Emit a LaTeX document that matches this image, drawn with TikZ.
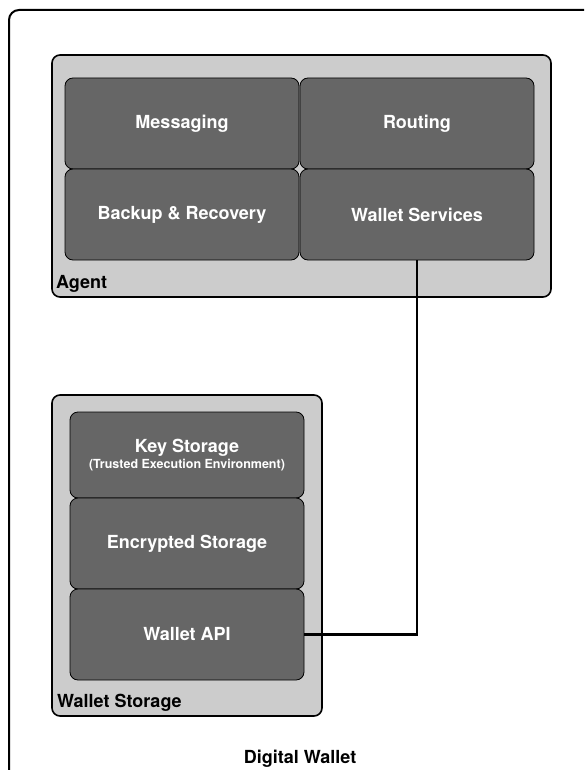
\documentclass[tikz,border=0pt]{standalone}
\usepackage{fontspec}
\setmainfont{TeX Gyre Heros}
\begin{document}
\begin{tikzpicture}[x=1pt,y=-1pt]
        % Colors
        \colorlet{panelcolor}{black!20}
        \colorlet{blockcolor}{black!60}
        % Styles
        \tikzstyle{outer frame}=[draw,line width=2pt,rounded corners=10pt]
        \tikzstyle{panel}=[draw,fill=panelcolor,line width=1.6pt,rounded corners=8pt]
        \tikzstyle{block}=[draw,fill=blockcolor,line width=0.8pt,rounded corners=8pt,
            minimum width=234pt,minimum height=91pt,inner sep=0pt,
            text=white,font=\bfseries\fontsize{18}{20}\selectfont,align=center]
        \tikzstyle{panel label}=[anchor=base west,inner sep=0pt,font=\bfseries\fontsize{18}{20}\selectfont]
        \tikzstyle{link}=[line width=2.6pt]
        %The graphic
        \useasboundingbox (0,0) rectangle (584,770);
        \clip (0,0) rectangle (584,770);
        \draw[style=outer frame] (9,10) rectangle (610,800);
        % Agent
        \draw[style=panel] (52,55) rectangle (551,297);
        \node[block] (msg) at (182,123.5) {Messaging};
        \node[block] (route) at (417,123.5) {Routing};
        \node[block] (backup) at (182,214.5) {Backup \& Recovery};
        \node[block] (ws) at (417,214.5) {Wallet Services};
        \node[panel label] (agent) at (56,288) {Agent};
        % Wallet Storage
        \draw[style=panel] (52,395) rectangle (322,716);
        \node[block,minimum height=86pt] (keys) at (187,455)
            {Key Storage\\[-4pt]{\fontsize{12.5}{14}\selectfont(Trusted Execution Environment)}};
        \node[block] (enc) at (187,543.5) {Encrypted Storage};
        \node[block] (api) at (187,634.5) {Wallet API};
        \node[panel label] (storage) at (57,707) {Wallet Storage};
        % Connection
        \draw[style=link] (ws.south) |- (api.east);
        \node[font=\bfseries\fontsize{18}{20}\selectfont] (wallet) at (300,759) {Digital Wallet};
    \end{tikzpicture}
\end{document}
